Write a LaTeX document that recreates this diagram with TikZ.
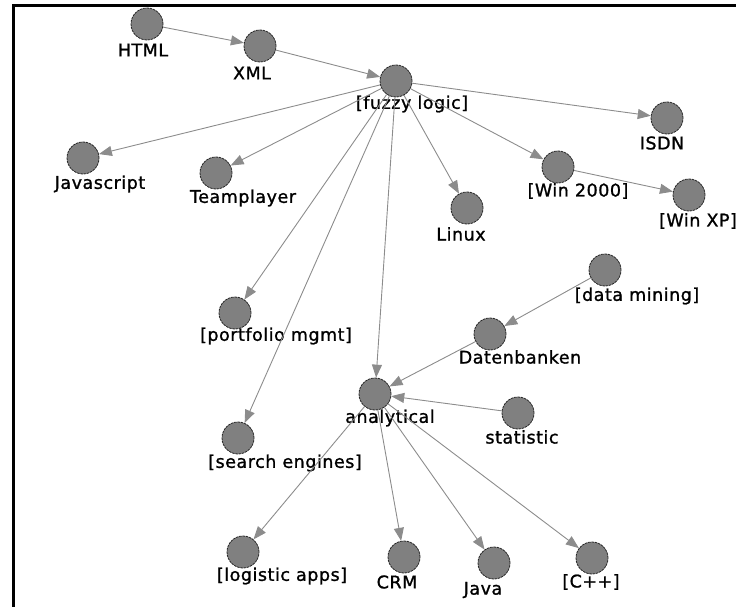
\documentclass[tikz,border=0pt]{standalone}
\usepackage{fontspec}
\setmainfont{DejaVu Sans}[FakeBold=1.2, LetterSpace=3]
\usetikzlibrary{arrows.meta}
\tikzset{
  vtx/.style={circle, fill=black!50, draw=black!85, line width=0.8pt, dash pattern=on 2.5pt off 0.8pt, minimum size=32pt, inner sep=0pt},
  lbl/.style={font=\fontsize{17.5}{17.5}\selectfont, inner sep=0pt, text=black},
  edge/.style={draw=black!45, line width=0.9pt, -{Triangle[length=13pt,width=10pt,fill=black!45]}},
  frame/.style={line width=2.4pt, black}
}
\begin{document}
\begin{tikzpicture}[x=1pt,y=-1pt]
\useasboundingbox (0,0) rectangle (736,607);
\coordinate (fa) at (736,5.5);
\coordinate (fb) at (13.3,5.5);
\coordinate (fc) at (13.3,607);
\draw[frame] (fa) -- (fb) -- (fc);
% nodes
\node[vtx] (html) at (147,24) {};
\node[vtx] (xml) at (260,46) {};
\node[vtx] (fuzzy) at (396,81) {};
\node[vtx] (isdn) at (667,118) {};
\node[vtx] (js) at (83,158) {};
\node[vtx] (team) at (216,173) {};
\node[vtx] (win2k) at (558,167) {};
\node[vtx] (winxp) at (689,195) {};
\node[vtx] (linux) at (467,208) {};
\node[vtx] (dm) at (605,270) {};
\node[vtx] (pm) at (235,313) {};
\node[vtx] (db) at (490,334) {};
\node[vtx] (ana) at (375,394) {};
\node[vtx] (stat) at (518,413) {};
\node[vtx] (se) at (238,438) {};
\node[vtx] (log) at (243,552) {};
\node[vtx] (crm) at (404,557) {};
\node[vtx] (java) at (494,563) {};
\node[vtx] (cpp) at (592,558) {};
% labels
\node[lbl] (htmlL) at (143,50) {HTML};
\node[lbl] (xmlL) at (252,73) {XML};
\node[lbl] (fuzzyL) at (412,104) {[fuzzy logic]};
\node[lbl] (isdnL) at (662,143) {ISDN};
\node[lbl] (jsL) at (100,184) {Javascript};
\node[lbl] (teamL) at (243,198) {Teamplayer};
\node[lbl] (win2kL) at (578,191) {[Win 2000]};
\node[lbl] (winxpL) at (698,221) {[Win XP]};
\node[lbl] (linuxL) at (461,234) {Linux};
\node[lbl] (dmL) at (637,296) {[data mining]};
\node[lbl] (pmL) at (276,336) {[portfolio mgmt]};
\node[lbl] (dbL) at (520,357) {Datenbanken};
\node[lbl] (anaL) at (390,418) {analytical};
\node[lbl] (statL) at (522,437) {statistic};
\node[lbl] (seL) at (285,463) {[search engines]};
\node[lbl] (logL) at (282,576) {[logistic apps]};
\node[lbl] (crmL) at (397,582) {CRM};
\node[lbl] (javaL) at (483,590) {Java};
\node[lbl] (cppL) at (591,582) {[C++]};
% edges
\draw[edge] (html) -- (xml);
\draw[edge] (xml) -- (fuzzy);
\draw[edge] (fuzzy) -- (isdn);
\draw[edge] (fuzzy) -- (js);
\draw[edge] (fuzzy) -- (team);
\draw[edge] (fuzzy) -- (win2k);
\draw[edge] (win2k) -- (winxp);
\draw[edge] (fuzzy) -- (linux);
\draw[edge] (fuzzy) -- (pm);
\draw[edge] (fuzzy) -- (se);
\draw[edge] (fuzzy) -- (ana);
\draw[edge] (dm) -- (db);
\draw[edge] (db) -- (ana);
\draw[edge] (stat) -- (ana);
\draw[edge] (ana) -- (log);
\draw[edge] (ana) -- (crm);
\draw[edge] (ana) -- (java);
\draw[edge] (ana) -- (cpp);
\end{tikzpicture}
\end{document}
